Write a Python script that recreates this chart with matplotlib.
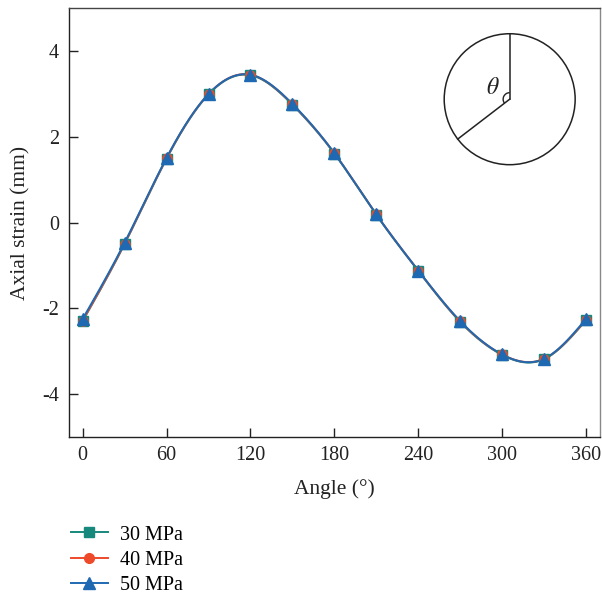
import numpy as np
import matplotlib
matplotlib.use("Agg")
import matplotlib.pyplot as plt
from matplotlib.patches import Circle, Arc

plt.rcParams['font.family'] = ['Liberation Serif', 'DejaVu Serif']
plt.rcParams['mathtext.fontset'] = 'stix'

angles = [0, 30, 60, 90, 120, 150, 180, 210, 240, 270, 300, 330, 360]
strain_30 = [-2.30, -0.50, 1.49, 2.99, 3.44, 2.75, 1.61, 0.18, -1.13, -2.32, -3.09, -3.19, -2.28]
strain_40 = [-2.29, -0.49, 1.50, 3.00, 3.45, 2.76, 1.62, 0.19, -1.12, -2.31, -3.08, -3.18, -2.27]
strain_50 = [-2.25, -0.47, 1.51, 3.00, 3.45, 2.77, 1.62, 0.19, -1.12, -2.30, -3.08, -3.18, -2.25]
series_labels = ['30 MPa', '40 MPa', '50 MPa']
series_colors = ['#17897c', '#ee4a2a', '#1f69b3']
series_markers = ['s', 'o', '^']
x_ticks = [0, 60, 120, 180, 240, 300, 360]
y_ticks = [-4, -2, 0, 2, 4]
y_tick_labels = ['-4', '-2', '0', '2', '4']


def natural_spline(x, y, xs):
    x = np.asarray(x, float)
    y = np.asarray(y, float)
    n = len(x)
    h = np.diff(x)
    A = np.zeros((n, n))
    b = np.zeros(n)
    A[0, 0] = A[-1, -1] = 1.0
    for i in range(1, n - 1):
        A[i, i - 1] = h[i - 1]
        A[i, i] = 2 * (h[i - 1] + h[i])
        A[i, i + 1] = h[i]
        b[i] = 6 * ((y[i + 1] - y[i]) / h[i] - (y[i] - y[i - 1]) / h[i - 1])
    M = np.linalg.solve(A, b)
    idx = np.clip(np.searchsorted(x, xs) - 1, 0, n - 2)
    x0, x1 = x[idx], x[idx + 1]
    hh = x1 - x0
    t0 = x1 - xs
    t1 = xs - x0
    return (M[idx] * t0 ** 3 / (6 * hh) + M[idx + 1] * t1 ** 3 / (6 * hh)
            + (y[idx] / hh - M[idx] * hh / 6) * t0
            + (y[idx + 1] / hh - M[idx + 1] * hh / 6) * t1)


fig = plt.figure(figsize=(6.02, 5.95), dpi=100)
ax = fig.add_axes([0.1141, 0.266, 0.8826, 0.720])

xs = np.linspace(0, 360, 721)
handles = []
for vals, lab, col, mk in zip([strain_30, strain_40, strain_50],
                              series_labels, series_colors, series_markers):
    ax.plot(xs, natural_spline(angles, vals, xs), color=col, lw=1.4, zorder=2)
    ax.plot(angles, vals, linestyle='none', marker=mk, color=col,
            markersize=8 if mk == '^' else 6.5, zorder=3)
    h, = ax.plot([], [], color=col, marker=mk, lw=1.4,
                 markersize=9 if mk == '^' else 7, label=lab)
    handles.append(h)

ax.set_xlim(-10, 370)
ax.set_ylim(-5, 5)
ax.set_xticks(x_ticks)
ax.set_yticks(y_ticks)
ax.set_yticklabels(y_tick_labels)
ax.tick_params(direction='in', length=6.5, width=1, labelsize=14.5,
               colors='#222222', pad=7)
for side, sp in ax.spines.items():
    sp.set_color('#222222')
    sp.set_linewidth(1.0)
ax.spines['right'].set_color('#888888')
ax.spines['top'].set_color('#444444')

ax.set_xlabel('Angle (°)', fontsize=15.5, color='#222222', labelpad=10)
ax.set_ylabel('Axial strain (mm)', fontsize=15.5, color='#222222', labelpad=8)

# schematic of the angle theta
ins = fig.add_axes([0.7357, 0.721, 0.2219, 0.2245])
ins.set_xlim(-1.02, 1.02)
ins.set_ylim(-1.02, 1.02)
ins.set_aspect('equal')
ins.axis('off')
ins.add_patch(Circle((0, 0), 1.0, fill=False, lw=1.1, color='#222222'))
ins.plot([0, 0], [0, 1.0], color='#222222', lw=1.1)
ang = np.deg2rad(217.5)
ins.plot([0, np.cos(ang)], [0, np.sin(ang)], color='#222222', lw=1.1)
ins.add_patch(Arc((0, 0), 0.2, 0.2, theta1=90, theta2=217.5, lw=1.0,
                  color='#222222'))
ins.text(-0.26, 0.17, r'$\theta$', fontsize=17, ha='center', va='center',
         color='#222222')

fig.legend(handles=handles, loc='upper left', bbox_to_anchor=(0.105, 0.1305),
           frameon=False, fontsize=14.5, handlelength=1.8, handletextpad=0.6,
           labelspacing=0.3, borderaxespad=0)

fig.savefig('out.png', dpi=100)
